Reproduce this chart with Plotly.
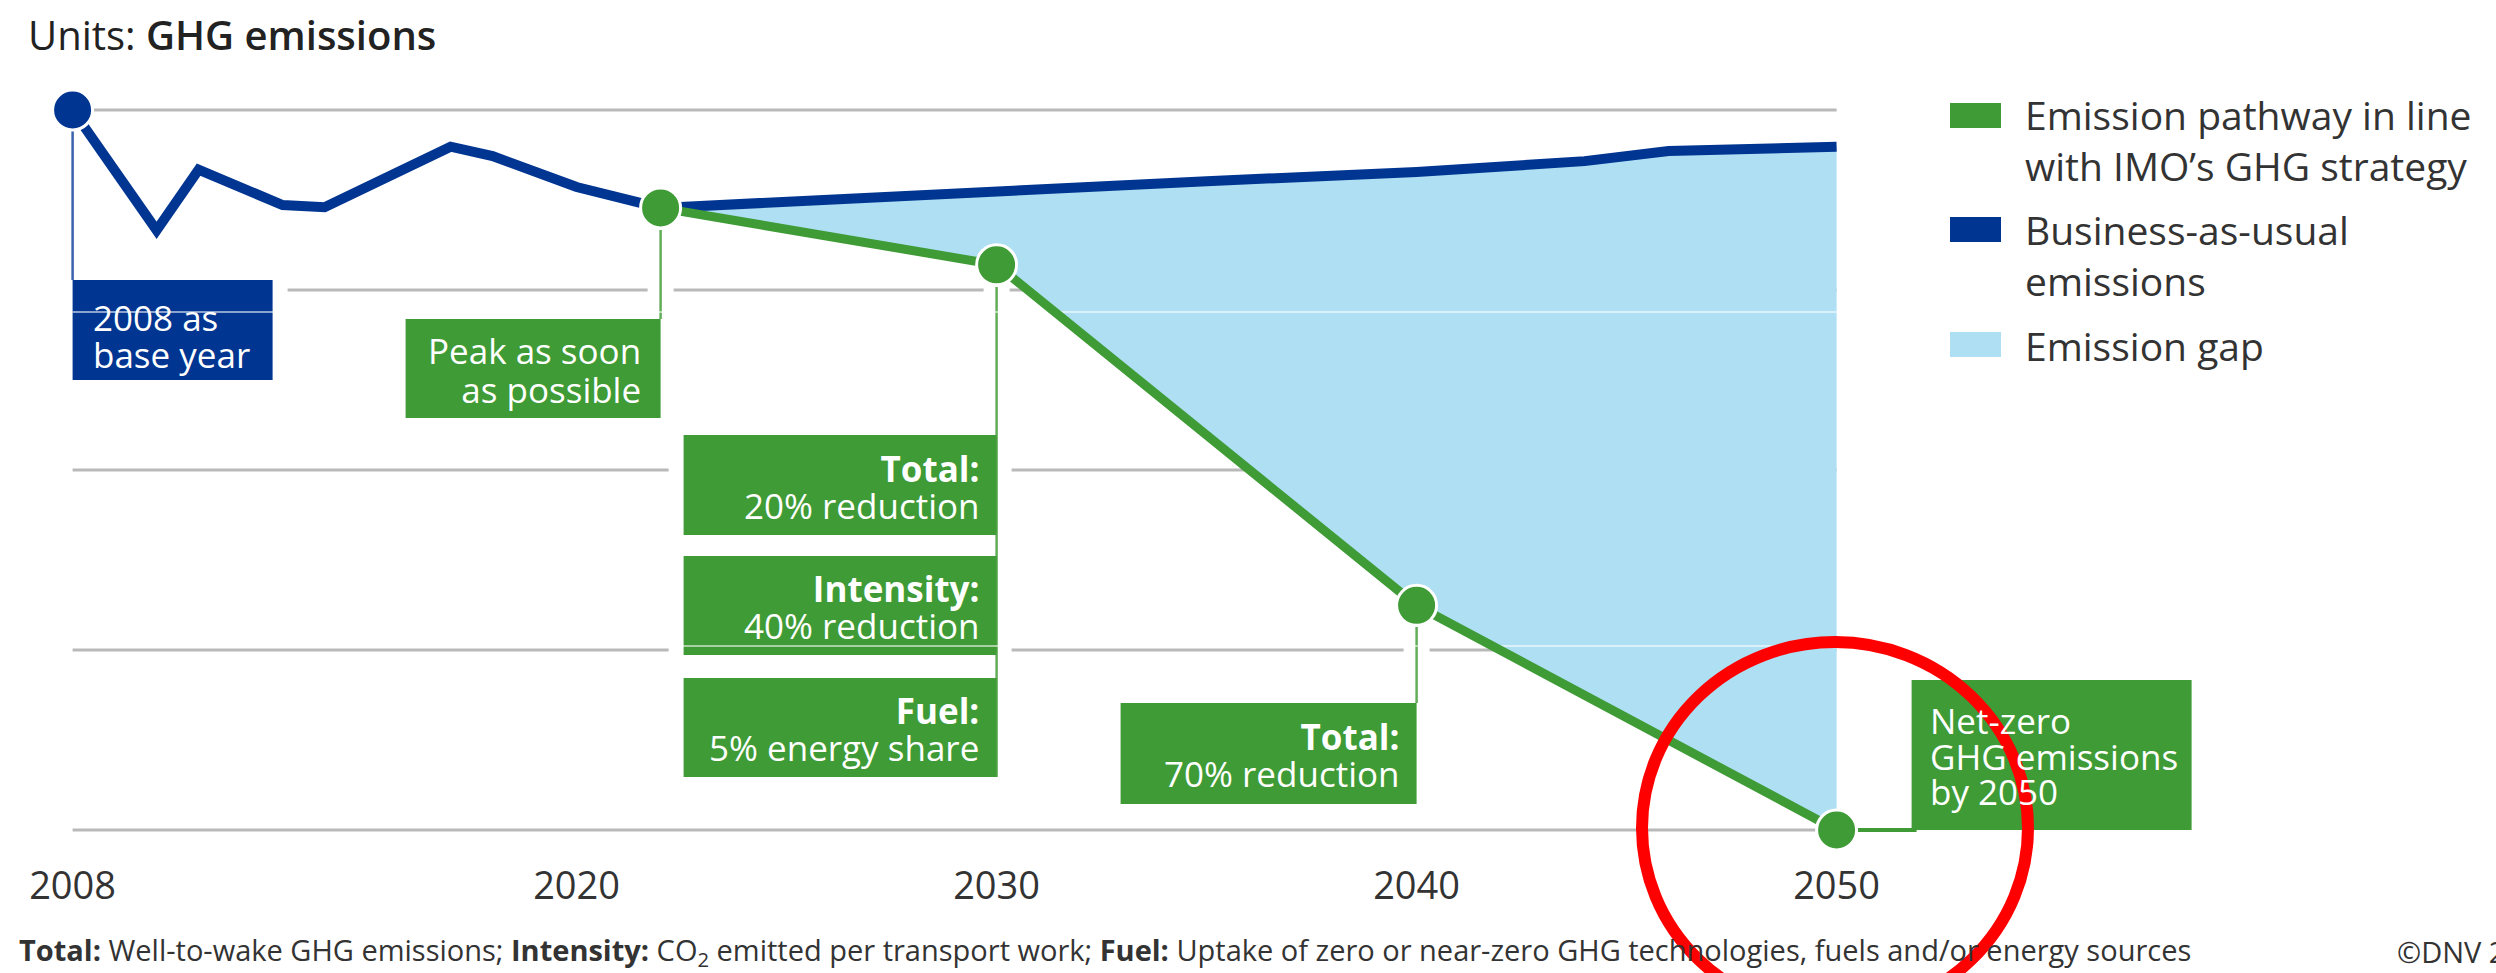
import plotly.graph_objects as go

# ---------------- data ----------------
bau_hist_years = [2008, 2010, 2011, 2013, 2014, 2017, 2018, 2020, 2022]
bau_hist_values = [100, 83.3, 91.7, 86.8, 86.5, 94.9, 93.6, 89.3, 86.4]
bau_future_years = [2022, 2028, 2030, 2035, 2040, 2044, 2046, 2050]
bau_future_values = [86.4, 88.1, 89.0, 90.1, 91.4, 92.9, 94.3, 94.9]
pathway_years = [2022, 2030, 2040, 2050]
pathway_values = [86.4, 78.5, 31.2, 0]
base_year = [2008]
base_value = [100]
tick_years = [2008, 2020, 2030, 2040, 2050]
tick_labels = ["2008", "2020", "2030", "2040", "2050"]
gridline_values = [0, 25, 50, 75, 100]
legend_labels = [
    "Emission pathway in line<br>with IMO\u2019s GHG strategy",
    "Business-as-usual<br>emissions",
    "Emission gap",
]

# ---------------- style ----------------
W, H = 2496, 973
PLOT_BOTTOM = 860
X2030, PXY = 996.6, 42.0      # pixel of 2030, pixels per year
Y0PX, PXU = 830.0, 7.2         # pixel of value 0, pixels per unit
GREEN = "#3e9b35"
GREEN_LIGHT = "#62ad58"
BLUE = "#003591"
BLUE_LIGHT = "#3a62ad"
GAP = "#aedff3"
GRID = "#b9b9b9"
TXT = "#333333"
FONT = "Open Sans"
BOXFONT = 35


def xd(px):
    return 2030 + (px - X2030) / PXY


def yd(py):
    return (Y0PX - py) / PXU


def dx(px):
    return px / PXY


def xp(px):
    return px / W


def yp(py):
    return (PLOT_BOTTOM - py) / PLOT_BOTTOM


def to_px(x):
    return (x - 2030) * PXY + X2030


bau_years = bau_hist_years + bau_future_years[1:]
bau_values = bau_hist_values + bau_future_values[1:]

fig = go.Figure()

# emission gap (polygon between BAU and pathway)
fig.add_trace(go.Scatter(
    x=bau_future_years + pathway_years[::-1],
    y=bau_future_values + pathway_values[::-1],
    fill="toself", fillcolor=GAP, mode="lines", line=dict(width=0),
    hoverinfo="skip", showlegend=False))

# faint light lines seen across the coloured areas
for py in (312, 646):
    fig.add_trace(go.Scatter(
        x=[2008, 2050], y=[yd(py), yd(py)], mode="lines",
        line=dict(color="rgba(255,255,255,0.55)", width=2),
        hoverinfo="skip", showlegend=False))

fig.add_trace(go.Scatter(
    x=bau_years, y=bau_values, mode="lines",
    line=dict(color=BLUE, width=10), cliponaxis=False,
    name="Business-as-usual emissions", showlegend=False))
fig.add_trace(go.Scatter(
    x=pathway_years, y=pathway_values, mode="lines",
    line=dict(color=GREEN, width=9), cliponaxis=False,
    name="Emission pathway", showlegend=False))
fig.add_trace(go.Scatter(
    x=pathway_years, y=pathway_values, mode="markers", cliponaxis=False,
    marker=dict(color=GREEN, size=40, line=dict(color="white", width=3)),
    showlegend=False, hoverinfo="skip"))
fig.add_trace(go.Scatter(
    x=base_year, y=base_value, mode="markers", cliponaxis=False,
    marker=dict(color=BLUE, size=40, line=dict(color="white", width=3)),
    showlegend=False, hoverinfo="skip"))

shapes = []

# gridlines
for v in gridline_values:
    shapes.append(dict(type="line", layer="below", xref="x", yref="y",
                       x0=2008, x1=2050, y0=v, y1=v,
                       line=dict(color=GRID, width=3)))

# white gaps round connectors
connectors = [  # (year, top px, bottom px, colour)
    (base_year[0], 128, 280, BLUE_LIGHT),
    (pathway_years[0], 230, 319, GREEN_LIGHT),
    (pathway_years[1], 287, 777, GREEN_LIGHT),
    (pathway_years[2], 627, 703, GREEN_LIGHT),
]
for yr, t, b, c in connectors:
    shapes.append(dict(type="rect", layer="below", xref="x", yref="y",
                       x0=yr - dx(13), x1=yr + dx(13), y0=yd(b), y1=yd(t),
                       fillcolor="white", line=dict(width=0)))

# boxes: (x0 data, x1 data, top px, bottom px, colour)
boxes = [
    (base_year[0], base_year[0] + dx(200), 280, 380, BLUE),
    (pathway_years[0] - dx(255), pathway_years[0], 319, 418, GREEN),
    (pathway_years[1] - dx(313), pathway_years[1], 435, 535, GREEN),
    (pathway_years[1] - dx(313), pathway_years[1], 556, 655, GREEN),
    (pathway_years[1] - dx(313), pathway_years[1], 678, 777, GREEN),
    (pathway_years[2] - dx(296), pathway_years[2], 703, 804, GREEN),
    (pathway_years[3] + dx(75), pathway_years[3] + dx(355), 680, 830, GREEN),
]
PAD = 15
for x0, x1, t, b, c in boxes:
    shapes.append(dict(type="rect", layer="below", xref="x", yref="y",
                       x0=x0 - dx(PAD), x1=x1 + dx(PAD), y0=yd(b + PAD), y1=yd(t - PAD),
                       fillcolor="white", line=dict(width=0)))

for yr, t, b, c in connectors:
    shapes.append(dict(type="line", layer="below", xref="x", yref="y",
                       x0=yr, x1=yr, y0=yd(b), y1=yd(t),
                       line=dict(color=c, width=2.5)))
shapes.append(dict(type="line", layer="below", xref="x", yref="y",
                   x0=pathway_years[3], x1=pathway_years[3] + dx(80),
                   y0=pathway_values[3], y1=pathway_values[3],
                   line=dict(color=GREEN, width=4)))

for x0, x1, t, b, c in boxes:
    shapes.append(dict(type="rect", layer="below", xref="x", yref="y",
                       x0=x0, x1=x1, y0=yd(b), y1=yd(t),
                       fillcolor=c, line=dict(width=0)))

# legend swatches
legend_colors = [GREEN, BLUE, GAP]
legend_swatch_top = [103, 217, 332]
for c, t in zip(legend_colors, legend_swatch_top):
    shapes.append(dict(type="rect", layer="below", xref="paper", yref="paper",
                       x0=xp(1950), x1=xp(2001), y0=yp(t + 25), y1=yp(t),
                       fillcolor=c, line=dict(width=0)))

# red hand-drawn circle
shapes.append(dict(type="circle", layer="above", xref="paper", yref="paper",
                   x0=xp(1642), x1=xp(2028), y0=yp(1014), y1=yp(642),
                   line=dict(color="#ff0000", width=12)))

annotations = []


def text(px, py, s, size, color, anchor="left", yanchor="middle"):
    annotations.append(dict(x=xp(px), y=yp(py), xref="paper", yref="paper",
                            text=s, showarrow=False, xanchor=anchor, align=anchor,
                            yanchor=yanchor,
                            font=dict(family=FONT, size=size, color=color)))


def block(px, line_ys, lines, anchor):
    """Multi-line white box text: glyph size BOXFONT, line pitch from the picture."""
    pitch = (line_ys[-1] - line_ys[0]) / (len(line_ys) - 1)
    base = pitch / 1.3
    s = "<br>".join("<span style='font-size:%dpx'>%s</span>" % (BOXFONT, ln) for ln in lines)
    text(px, sum(line_ys) / len(line_ys), s, base, "white", anchor)


# title
text(26, 34, "Units: <span style='font-weight:600'>GHG emissions</span>", 40, "#222222")

# box texts
block(to_px(boxes[0][0]) + 18, [317, 354], ["2008 as", "base year"], "left")
block(to_px(boxes[1][1]) - 18, [350, 389], ["Peak as soon", "as possible"], "right")
box_lines = [
    (2, ["<b>Total:</b>", "20% reduction"], [468, 505]),
    (3, ["<b>Intensity:</b>", "40% reduction"], [589, 626]),
    (4, ["<b>Fuel:</b>", "5% energy share"], [710, 747]),
    (5, ["<b>Total:</b>", "70% reduction"], [736, 773]),
]
for i, lines, ys in box_lines:
    block(to_px(boxes[i][1]) - 16, ys, lines, "right")
block(to_px(boxes[6][0]) + 16, [720, 756, 791], ["Net-zero", "GHG emissions", "by 2050"], "left")

# legend text
legend_center_y = [140, 255, 346]
for s, y in zip(legend_labels, legend_center_y):
    text(2023, y, s, 39, TXT)

# footnote
text(17, 951,
     "<b>Total:</b> Well-to-wake GHG emissions; <b>Intensity:</b> CO<sub>2</sub> emitted per "
     "transport work; <b>Fuel:</b> Uptake of zero or near-zero GHG technologies, fuels and/or energy sources",
     29, TXT)
text(2395, 951, "\u00a9DNV 2023", 29, TXT)

fig.update_layout(
    width=W, height=H,
    margin=dict(l=0, r=0, t=0, b=H - PLOT_BOTTOM, pad=0),
    paper_bgcolor="white", plot_bgcolor="white",
    showlegend=False,
    shapes=shapes, annotations=annotations,
    font=dict(family=FONT, color=TXT),
    xaxis=dict(range=[xd(0), xd(W)], showgrid=False, zeroline=False, showline=False,
               tickmode="array", tickvals=tick_years, ticktext=tick_labels,
               ticks="", tickfont=dict(family=FONT, size=38, color=TXT),
               fixedrange=True),
    yaxis=dict(range=[yd(PLOT_BOTTOM), yd(0)], visible=False, showgrid=False,
               zeroline=False, fixedrange=True),
)

fig.write_html("out.html")
